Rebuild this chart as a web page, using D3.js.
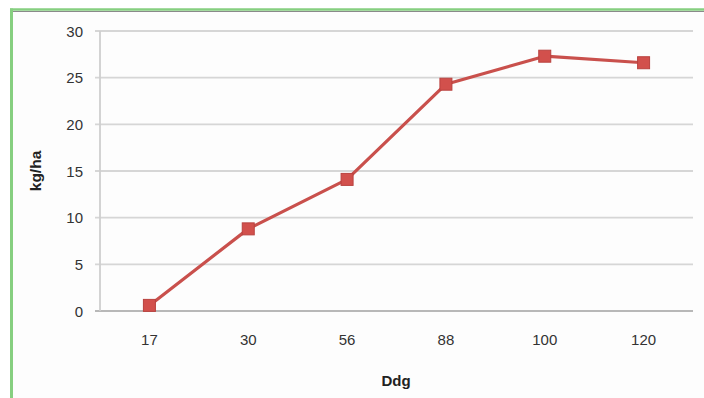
<!DOCTYPE html>
<html>
<head>
<meta charset="utf-8">
<script src="https://cdn.jsdelivr.net/npm/d3@7"></script>
<style>
  html, body { margin: 0; padding: 0; background: #ffffff; }
  svg { display: block; }
</style>
</head>
<body>
<svg id="chart" width="704" height="398"></svg>
<script>
// Yield (kg/ha) by Ddg
const categories = ["17", "30", "56", "88", "100", "120"];
const values = [0.6, 8.8, 14.1, 24.3, 27.3, 26.6];
const yTicks = [0, 5, 10, 15, 20, 25, 30];

const W = 704, H = 398;
const margin = { left: 100, right: 11, top: 31, bottom: 87 };
const svg = d3.select("#chart");
const font = "Liberation Sans, Arial, sans-serif";

// panel background and frame
svg.append("rect").attr("x", 0).attr("y", 0).attr("width", W).attr("height", H).attr("fill", "#ffffff");
svg.append("rect").attr("x", 12).attr("y", 11).attr("width", W - 12).attr("height", H - 11).attr("fill", "#fdfdfd");
svg.append("line").attr("x1", 10).attr("x2", W).attr("y1", 11.5).attr("y2", 11.5)
  .attr("stroke", "#8a8a8a").attr("stroke-width", 1.2);
svg.append("line").attr("x1", 10).attr("x2", W).attr("y1", 9.5).attr("y2", 9.5)
  .attr("stroke", "#86cf80").attr("stroke-width", 2.5);
svg.append("line").attr("x1", 11.5).attr("x2", 11.5).attr("y1", 8.5).attr("y2", H)
  .attr("stroke", "#86cf80").attr("stroke-width", 3);

const x = d3.scaleBand().domain(categories).range([margin.left, W - margin.right]);
const y = d3.scaleLinear().domain([0, 30]).range([H - margin.bottom, margin.top]);

// horizontal gridlines
svg.append("g")
  .selectAll("line")
  .data(yTicks)
  .join("line")
  .attr("x1", margin.left - 5)
  .attr("x2", W - margin.right)
  .attr("y1", d => y(d))
  .attr("y2", d => y(d))
  .attr("stroke", d => d === 0 ? "#b8b8b8" : "#d6d6d6")
  .attr("stroke-width", 1.8);

// y axis line
svg.append("line")
  .attr("x1", margin.left).attr("x2", margin.left)
  .attr("y1", y(30)).attr("y2", y(0))
  .attr("stroke", "#cfcfcf").attr("stroke-width", 1.8);

// y axis labels
const yAxis = d3.axisLeft(y).tickValues(yTicks).tickSize(0).tickPadding(0);
const gy = svg.append("g").attr("transform", `translate(${margin.left - 17},0)`).call(yAxis);
gy.select(".domain").remove();
gy.selectAll("text")
  .attr("font-family", font)
  .attr("font-size", 15).attr("fill", "#333").attr("dy", "0.35em");

// x axis labels
const xAxis = d3.axisBottom(x).tickSize(0).tickPadding(0);
const gx = svg.append("g").attr("transform", `translate(0,${y(0) + 23})`).call(xAxis);
gx.select(".domain").remove();
gx.selectAll("text")
  .attr("font-family", font)
  .attr("font-size", 15).attr("fill", "#333");

// axis titles
svg.append("text")
  .attr("x", 396).attr("y", 386)
  .attr("text-anchor", "middle")
  .attr("font-family", font)
  .attr("font-size", 15).attr("font-weight", "bold").attr("fill", "#222")
  .text("Ddg");
svg.append("text")
  .attr("transform", "translate(41,171) rotate(-90)")
  .attr("text-anchor", "middle")
  .attr("font-family", font)
  .attr("font-size", 15.5).attr("font-weight", "bold").attr("fill", "#222")
  .text("kg/ha");

// series line
const cx = d => x(d) + x.bandwidth() / 2;
const line = d3.line().x((d, i) => cx(categories[i])).y(d => y(d));
svg.append("path")
  .datum(values)
  .attr("d", line)
  .attr("fill", "none")
  .attr("stroke", "#c9504c")
  .attr("stroke-width", 3.2)
  .attr("stroke-linejoin", "round");

// square markers
const m = 12;
svg.append("g")
  .selectAll("rect")
  .data(values)
  .join("rect")
  .attr("x", (d, i) => cx(categories[i]) - m / 2)
  .attr("y", d => y(d) - m / 2)
  .attr("width", m).attr("height", m)
  .attr("fill", "#d2504c")
  .attr("stroke", "#b9423f").attr("stroke-width", 1);
</script>
</body>
</html>
